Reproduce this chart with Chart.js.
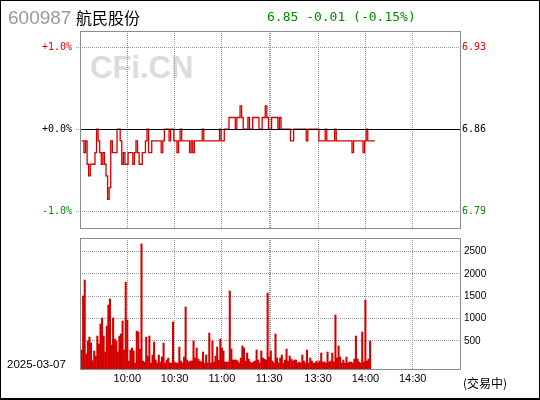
<!DOCTYPE html>
<html>
<head>
<meta charset="utf-8">
<script src="https://cdn.jsdelivr.net/npm/chart.js"></script>
<style>
  html, body { margin: 0; padding: 0; background: #fff; }
  #wrap { position: relative; width: 540px; height: 400px; overflow: hidden; background: #fff; }
  #wrap canvas { position: absolute; left: 0; top: 0; }
  .txt { position: absolute; white-space: nowrap; line-height: 1; }
  #frame { position: absolute; left: 0; top: 0; width: 540px; height: 400px; box-sizing: border-box;
           border: 1px solid #000; border-bottom-width: 2px; pointer-events: none; }
</style>
</head>
<body>
<div id="wrap">
  <div class="txt" style="left:90px;top:50px;font:bold 31px 'Liberation Sans';color:#dcdcdc;">CFi.CN</div>
  <canvas id="priceCanvas" width="540" height="400"></canvas>
  <canvas id="volCanvas" width="540" height="400"></canvas>
  <div class="txt" style="left:8px;top:7px;font:19px 'Liberation Sans';color:#999;">600987</div>
  <div class="txt" style="left:76px;top:5px;font:16px 'Noto Sans CJK SC';color:#000;">航民股份</div>
  <div class="txt" style="left:267px;top:9px;font:13px 'DejaVu Sans Mono';color:#008c00;">6.85 -0.01 (-0.15%)</div>
  <div class="txt" style="left:7px;top:358px;font:11.5px 'Liberation Sans';color:#000;">2025-03-07</div>
  <div class="txt" style="left:463px;top:374px;font:12px 'Noto Sans CJK SC';color:#000;">(交易中)</div>
  <div id="frame"></div>
</div>
<script>
// minute index: 0 = 9:30, 120 = 11:30, 121 = 13:00, 241 = 15:00
const prevClose = 6.86;

// one price per minute, starting at minute 1 (9:31)
const prices = [
  6.85,6.85,6.84,6.85,6.83,6.82,6.83,6.83,6.83,6.84,
  6.86,6.85,6.84,6.83,6.84,6.83,6.82,6.80,6.81,6.85,
  6.84,6.84,6.84,6.86,6.86,6.85,6.83,6.84,6.83,6.83,
  6.84,6.84,6.84,6.83,6.84,6.85,6.84,6.83,6.83,6.84,
  6.84,6.85,6.86,6.84,6.84,6.85,6.85,6.85,6.85,6.85,
  6.85,6.84,6.85,6.86,6.86,6.86,6.85,6.86,6.86,6.85,
  6.85,6.84,6.85,6.86,6.85,6.85,6.85,6.85,6.85,6.84,
  6.85,6.84,6.85,6.85,6.85,6.85,6.85,6.86,6.85,6.85,
  6.85,6.85,6.85,6.85,6.85,6.85,6.85,6.85,6.86,6.85,
  6.85,6.86,6.86,6.86,6.87,6.87,6.87,6.87,6.86,6.87,
  6.87,6.88,6.87,6.86,6.86,6.86,6.87,6.86,6.86,6.87,
  6.87,6.87,6.87,6.86,6.86,6.87,6.87,6.88,6.87,6.86,
  6.86,6.87,6.87,6.87,6.87,6.86,6.87,6.86,6.86,6.86,
  6.86,6.86,6.86,6.85,6.85,6.86,6.86,6.86,6.86,6.86,
  6.86,6.86,6.86,6.85,6.86,6.86,6.86,6.86,6.86,6.86,
  6.86,6.85,6.85,6.85,6.85,6.86,6.85,6.85,6.85,6.85,
  6.85,6.86,6.85,6.85,6.85,6.85,6.85,6.85,6.85,6.85,
  6.85,6.85,6.84,6.85,6.85,6.85,6.85,6.85,6.85,6.84,
  6.85,6.86,6.85,6.85,6.85,6.85,6.85
];

// volume per minute (hands), starting at minute 1
const volumes = [
  298,1507,1865,208,500,589,455,59,276,164,
  611,432,880,1015,611,253,835,1306,1440,410,
  1015,544,500,253,611,656,947,298,1820,970,
  52,298,343,276,7,723,701,320,2672,52,
  29,589,164,611,7,186,477,74,7,186,
  29,141,455,7,74,119,7,7,925,29,
  7,7,365,52,7,141,1261,74,29,52,
  52,500,119,343,96,52,29,253,7,186,
  7,679,7,500,29,164,365,74,544,343,
  276,29,29,29,1619,320,74,74,74,52,
  7,119,388,343,52,231,96,29,7,29,
  52,298,74,7,276,119,96,74,1574,141,
  276,52,7,656,119,7,119,186,7,74,
  320,52,164,96,52,74,74,7,29,7,
  186,52,7,298,7,119,52,7,7,52,
  7,52,231,29,29,7,253,29,52,231,
  29,1082,119,388,141,7,74,7,141,7,
  29,29,7,96,611,96,29,7,701,29,
  1418,52,96,500
];

const timeTicks = [30, 60, 90, 120, 121, 151, 181, 211];
const timeLabels = ['10:00', '10:30', '11:00', '11:30', '', '13:30', '14:00', '14:30'];
const priceTicks = [6.79, 6.86, 6.93];
const priceLabels = ['6.79', '6.86', '6.93'];
const pctLabels = ['-1.0%', '+0.0%', '+1.0%'];
const volTicks = [500, 1000, 1500, 2000, 2500];

const priceMin = 6.77546, priceMax = 6.94397;
const volMin = -127, volMax = 2806;
const minuteMax = 241;

const RED = '#d40000';
const GREEN = '#008c00';
const GRID = '#999999';
const BOX = '#8c8c8c';

function colorFor(v) {
  if (v > prevClose + 1e-9) return '#e00000';
  if (v < prevClose - 1e-9) return GREEN;
  return '#000';
}

const boxPlugin = {
  id: 'box',
  afterDraw(chart) {
    const a = chart.chartArea, ctx = chart.ctx;
    ctx.save();
    ctx.strokeStyle = BOX;
    ctx.lineWidth = 1;
    ctx.strokeRect(a.left + 0.5, a.top + 0.5, a.right - a.left, a.bottom - a.top);
    ctx.restore();
  }
};

const zeroLinePlugin = {
  id: 'zeroLine',
  afterDatasetsDraw(chart) {
    const a = chart.chartArea, ctx = chart.ctx;
    const y = Math.floor(chart.scales.yPct.getPixelForValue(prevClose)) + 0.5;
    ctx.save();
    ctx.strokeStyle = '#000';
    ctx.lineWidth = 1;
    ctx.beginPath();
    ctx.moveTo(a.left, y);
    ctx.lineTo(a.right, y);
    ctx.stroke();
    ctx.restore();
  }
};

new Chart(document.getElementById('priceCanvas'), {
  type: 'line',
  data: {
    datasets: [{
      data: prices.map((p, k) => ({ x: k + 1, y: p })),
      borderColor: RED,
      borderWidth: 1.3,
      pointRadius: 0,
      stepped: 'middle',
      yAxisID: 'yPct'
    }]
  },
  options: {
    responsive: false,
    animation: false,
    devicePixelRatio: 1,
    layout: { padding: { left: 0, right: 0, top: 31, bottom: 172 } },
    plugins: { legend: { display: false }, tooltip: { enabled: false } },
    scales: {
      x: {
        type: 'linear', min: 0, max: minuteMax,
        afterBuildTicks: s => { s.ticks = timeTicks.map(v => ({ value: v })); },
        afterFit: s => { s.height = 0; },
        ticks: { display: false },
        grid: { color: GRID, drawTicks: false },
        border: { display: false, dash: [1, 1] }
      },
      yPct: {
        position: 'left', min: priceMin, max: priceMax,
        afterBuildTicks: s => { s.ticks = priceTicks.map(v => ({ value: v })); },
        afterFit: s => { s.width = 80; },
        ticks: {
          padding: 4,
          font: { family: 'DejaVu Sans Mono', size: 10 },
          color: c => colorFor(c.tick.value),
          callback: (v, i) => pctLabels[i]
        },
        grid: {
          color: c => (c.tick && Math.abs(c.tick.value - prevClose) < 1e-9) ? 'rgba(0,0,0,0)' : GRID,
          tickLength: 4, tickColor: GRID, tickBorderDash: [1, 1]
        },
        border: { display: false, dash: [1, 1] }
      },
      yPrice: {
        position: 'right', min: priceMin, max: priceMax,
        afterBuildTicks: s => { s.ticks = priceTicks.map(v => ({ value: v })); },
        afterFit: s => { s.width = 80; },
        ticks: {
          padding: 2,
          font: { family: 'DejaVu Sans Mono', size: 10 },
          color: c => colorFor(c.tick.value),
          callback: (v, i) => priceLabels[i]
        },
        grid: { drawOnChartArea: false, drawTicks: false },
        border: { display: false }
      }
    }
  },
  plugins: [zeroLinePlugin, boxPlugin]
});

new Chart(document.getElementById('volCanvas'), {
  type: 'bar',
  data: {
    datasets: [{
      data: volumes.map((v, k) => ({ x: k + 1, y: v })),
      backgroundColor: RED,
      barThickness: 1.4,
      base: volMin,
      yAxisID: 'yVol'
    }]
  },
  options: {
    responsive: false,
    animation: false,
    devicePixelRatio: 1,
    layout: { padding: { left: 80, right: 0, top: 238, bottom: 11 } },
    plugins: { legend: { display: false }, tooltip: { enabled: false } },
    scales: {
      x: {
        type: 'linear', min: 0, max: minuteMax, offset: false,
        afterBuildTicks: s => { s.ticks = timeTicks.map(v => ({ value: v })); },
        afterFit: s => { s.height = 20; },
        ticks: {
          autoSkip: false, maxRotation: 0, padding: 3,
          font: { family: 'Liberation Sans', size: 11 },
          color: '#000',
          callback: (v, i) => timeLabels[i]
        },
        grid: { color: GRID, drawTicks: false, offset: false },
        border: { display: false, dash: [1, 1] }
      },
      yVol: {
        position: 'right', min: volMin, max: volMax,
        afterBuildTicks: s => { s.ticks = volTicks.map(v => ({ value: v })); },
        afterFit: s => { s.width = 80; },
        ticks: {
          padding: 4,
          font: { family: 'Liberation Sans', size: 10 },
          color: '#000',
          callback: (v, i) => String(volTicks[i])
        },
        grid: { color: GRID, drawTicks: false },
        border: { display: false, dash: [1, 1] }
      }
    }
  },
  plugins: [boxPlugin]
});
</script>
</body>
</html>
